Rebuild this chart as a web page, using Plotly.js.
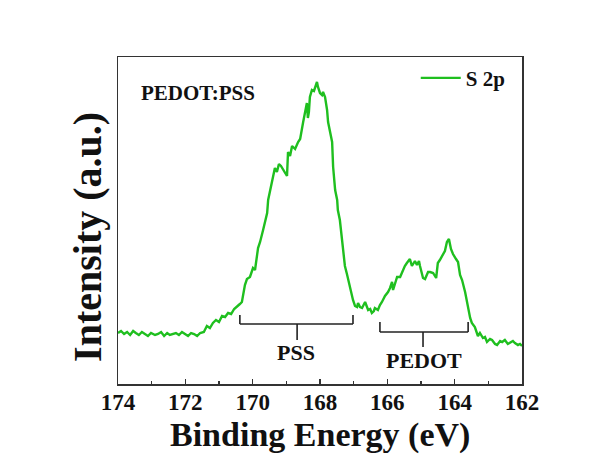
<!DOCTYPE html>
<html>
<head>
<meta charset="utf-8">
<script src="https://cdn.plot.ly/plotly-3.0.1.min.js"></script>
<style>html,body{margin:0;padding:0;background:#fff;}#chart{width:594px;height:458px;}</style>
</head>
<body>
<div id="chart"></div>
<script>
// Binding energy (eV) and intensity (a.u.)
const energy = [174.00,173.91,173.82,173.73,173.64,173.55,173.47,173.38,173.29,173.20,173.11,173.02,172.90,172.81,172.72,172.63,172.54,172.46,172.37,172.28,172.19,172.10,172.01,171.92,171.83,171.74,171.65,171.56,171.45,171.36,171.27,171.18,171.09,171.00,170.91,170.82,170.73,170.64,170.55,170.47,170.38,170.32,170.26,170.23,170.17,170.08,169.99,169.93,169.84,169.78,169.69,169.63,169.57,169.54,169.49,169.43,169.34,169.28,169.22,169.16,169.10,169.04,168.98,168.95,168.89,168.83,168.74,168.65,168.59,168.50,168.45,168.42,168.39,168.36,168.33,168.30,168.24,168.18,168.15,168.09,168.06,168.00,167.94,167.91,167.85,167.79,167.76,167.70,167.64,167.61,167.55,167.49,167.47,167.41,167.32,167.26,167.20,167.14,167.08,167.02,166.96,166.90,166.87,166.81,166.75,166.69,166.66,166.57,166.51,166.46,166.40,166.37,166.28,166.22,166.16,166.07,165.98,165.92,165.86,165.83,165.77,165.71,165.62,165.56,165.53,165.48,165.42,165.39,165.33,165.27,165.24,165.18,165.12,165.06,165.03,164.97,164.94,164.88,164.79,164.73,164.64,164.55,164.50,164.44,164.38,164.29,164.23,164.17,164.11,164.05,163.96,163.90,163.84,163.78,163.69,163.60,163.54,163.49,163.40,163.31,163.25,163.16,163.10,163.04,162.95,162.89,162.80,162.74,162.65,162.59,162.51,162.42,162.36,162.27,162.21,162.12,162.06,162.00];
const intensity = [51,53,50,52,49,53,51,49,52,50,48,51,49,50,52,48,51,49,50,51,49,52,50,48,51,50,48,51,52,58,56,61,64,62,68,67,71,70,75,77,80,82,92,99,105,107,116,114,136,142,154,162,171,184,192,204,216,212,220,218,215,211,208,232,228,238,235,242,245,262,272,278,281,266,272,287,294,293,296,302,297,291,289,292,287,274,262,252,242,217,194,184,174,164,134,118,110,101,91,84,78,77,81,77,76,81,82,74,75,71,73,76,74,79,82,88,92,96,102,94,101,107,107,112,114,118,121,122,125,118,120,123,119,123,118,110,106,105,112,112,111,106,121,124,128,133,142,145,135,130,125,122,109,104,92,75,66,61,57,48,51,46,47,42,45,44,40,39,43,42,44,40,41,43,41,39,40,38];

const seriesName = 'S 2p';
const sampleLabel = 'PEDOT:PSS';
const xTitle = 'Binding Energy (eV)';
const yTitle = 'Intensity (a.u.)';
const xTickVals = [174,172,170,168,166,164,162];
// bracket annotations: [left, right, centre] in eV and [tip, bar, stem] in a.u.
const pssBracketX = [170.38, 167.02, 168.68];
const pssBracketY = [69, 60, 44];
const pedotBracketX = [166.22, 163.60, 164.94];
const pedotBracketY = [62, 52, 37];

const FONT = 'Liberation Serif, Times New Roman, serif';
const green = '#1fbf1f';

function bracket(bx, by) {
  const line = {color: '#222', width: 1.6};
  return [
    {type:'line', xref:'x', yref:'y', x0:bx[0], x1:bx[0], y0:by[0], y1:by[1], line},
    {type:'line', xref:'x', yref:'y', x0:bx[0], x1:bx[1], y0:by[1], y1:by[1], line},
    {type:'line', xref:'x', yref:'y', x0:bx[1], x1:bx[1], y0:by[1], y1:by[0], line},
    {type:'line', xref:'x', yref:'y', x0:bx[2], x1:bx[2], y0:by[1], y1:by[2], line}
  ];
}

const trace = {
  x: energy, y: intensity, type: 'scatter', mode: 'lines', name: seriesName,
  line: {color: green, width: 2.4}
};

const layout = {
  width: 594, height: 458,
  margin: {l: 118, r: 72, t: 57, b: 74},
  paper_bgcolor: '#fff', plot_bgcolor: '#fff',
  font: {family: FONT, color: '#111'},
  showlegend: true,
  legend: {
    x: 0.737, y: 0.935, xanchor: 'left', yanchor: 'middle',
    itemwidth: 40,
    bgcolor: 'rgba(0,0,0,0)', borderwidth: 0,
    font: {family: FONT, size: 21, weight: 'bold', color: '#111'}
  },
  xaxis: {
    range: [174, 162], tickvals: xTickVals, ticktext: xTickVals.map(String),
    ticks: 'inside', ticklen: 5, tickwidth: 1.4, tickcolor: '#333',
    minor: {dtick: 1, tick0: 162, ticks: 'inside', ticklen: 3, tickwidth: 1.2, tickcolor: '#333'},
    showline: true, linecolor: '#333', linewidth: 1.5, mirror: true,
    showgrid: false, zeroline: false, ticklabelstandoff: -3,
    tickfont: {family: FONT, size: 23, weight: 'bold', color: '#111'}
  },
  yaxis: {
    range: [0, 327], showticklabels: false, ticks: '',
    showline: true, linecolor: '#333', linewidth: 1.5, mirror: true,
    showgrid: false, zeroline: false
  },
  shapes: [].concat(bracket(pssBracketX, pssBracketY), bracket(pedotBracketX, pedotBracketY)),
  annotations: [
    {x: 0.5, y: -0.157, xref: 'paper', yref: 'paper', xanchor: 'center', yanchor: 'middle', showarrow: false,
      text: xTitle, font: {family: FONT, size: 34, weight: 'bold', color: '#111'}},
    {x: -0.077, y: 0.4495, xref: 'paper', yref: 'paper', xanchor: 'center', yanchor: 'middle', showarrow: false,
      textangle: -90, text: yTitle, font: {family: FONT, size: 40, weight: 'bold', color: '#111'}},
    {x: 173.38, y: 291, xref: 'x', yref: 'y', xanchor: 'left', yanchor: 'middle', showarrow: false,
      text: sampleLabel, font: {family: FONT, size: 21, weight: 'bold', color: '#111'}},
    {x: 168.71, y: 32, xref: 'x', yref: 'y', xanchor: 'center', yanchor: 'middle', showarrow: false,
      text: 'PSS', font: {family: FONT, size: 22, weight: 'bold', color: '#111'}},
    {x: 164.91, y: 24, xref: 'x', yref: 'y', xanchor: 'center', yanchor: 'middle', showarrow: false,
      text: 'PEDOT', font: {family: FONT, size: 22, weight: 'bold', color: '#111'}}
  ]
};

Plotly.newPlot('chart', [trace], layout, {displayModeBar: false, staticPlot: true});
</script>
</body>
</html>
